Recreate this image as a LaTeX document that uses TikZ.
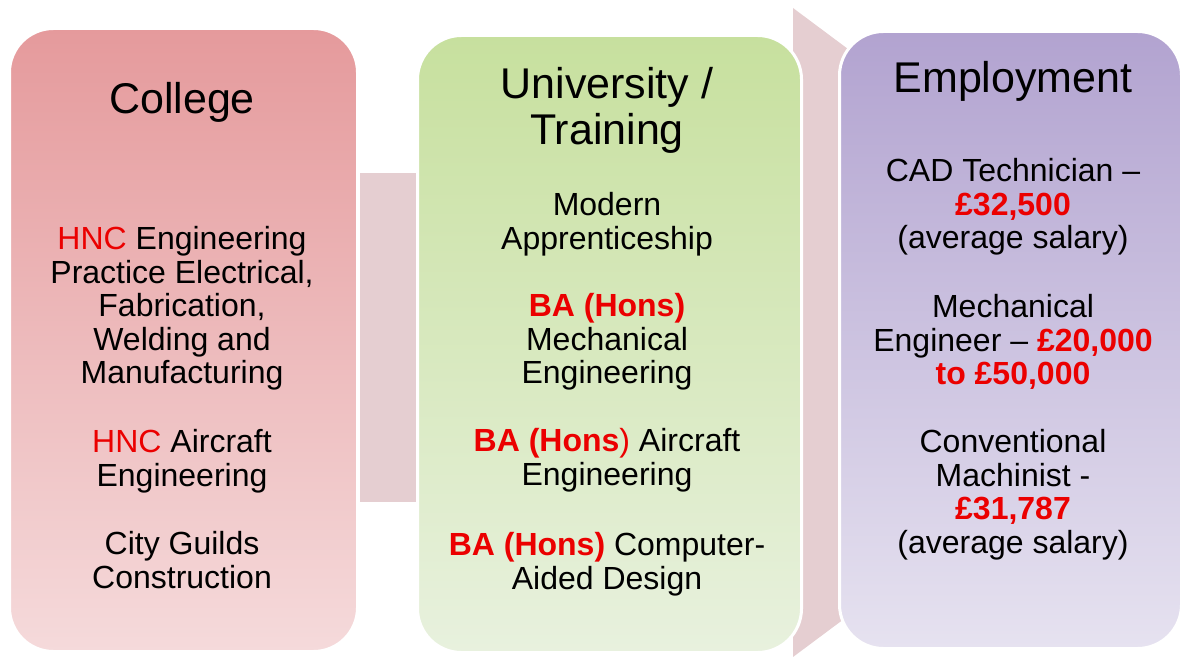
\documentclass[tikz,border=0pt]{standalone}
\usepackage{fontspec}
\setmainfont{Liberation Sans}
\definecolor{redtop}{RGB}{229,154,156}
\definecolor{redbot}{RGB}{245,218,219}
\definecolor{greentop}{RGB}{199,224,158}
\definecolor{greenbot}{RGB}{232,241,222}
\definecolor{purptop}{RGB}{178,163,208}
\definecolor{purpbot}{RGB}{230,226,240}
\definecolor{connfill}{RGB}{229,206,209}
\definecolor{hl}{RGB}{235,0,0}
\newcommand{\hlb}[1]{\textcolor{hl}{\textbf{#1}}}
\newcommand{\hln}[1]{\textcolor{hl}{#1}}
\tikzset{
  stagebox/.style={draw=white, line width=1.5pt, rounded corners=22pt, anchor=north west, inner sep=0pt},
  conn/.style={fill=connfill, draw=none},
  titletxt/.style={anchor=base, inner sep=0pt, font=\fontsize{21.5}{23}\selectfont},
  bodytxt/.style={anchor=north, align=center, inner sep=0pt, font=\fontsize{16}{16.75}\selectfont}
}
\begin{document}
\begin{tikzpicture}[x=0.5pt,y=-0.5pt]
\useasboundingbox (0,0) rectangle (1181,657);
% connectors behind boxes
\coordinate (c1a) at (360,173);
\coordinate (c1b) at (430,502);
\fill[conn] (c1a) rectangle (c1b);
\coordinate (c2a) at (793,8);
\coordinate (c2tip) at (1228,332.5);
\coordinate (c2b) at (793,657);
\fill[conn] (c2a) -- (c2tip) -- (c2b) -- cycle;
% boxes
\node[stagebox, minimum width=174pt, minimum height=311.5pt, top color=redtop, bottom color=redbot] (college) at (8,27) {};
\node[stagebox, minimum width=192pt, minimum height=308.5pt, top color=greentop, bottom color=greenbot] (uni) at (416,34) {};
\node[stagebox, minimum width=171pt, minimum height=308.5pt, top color=purptop, bottom color=purpbot] (emp) at (838,30) {};
% titles
\node[titletxt] (tcollege) at (182,114) {College};
\node[titletxt, anchor=north, align=center] (tuni) at (607,66) {\strut University /\\Training};
\node[titletxt] (temp) at (1013,92.5) {Employment};
% college items
\node[bodytxt] (c1) at (182,226) {\strut\hln{HNC} Engineering\\Practice Electrical,\\Fabrication,\\Welding and\\Manufacturing};
\node[bodytxt] (c2) at (182,429) {\strut\hln{HNC} Aircraft\\Engineering};
\node[bodytxt] (c3) at (182,531) {\strut City Guilds\\Construction};
% university items
\node[bodytxt] (u1) at (607,192) {\strut Modern\\Apprenticeship};
\node[bodytxt] (u2) at (607,293) {\strut\hlb{BA (Hons)}\\Mechanical\\Engineering};
\node[bodytxt] (u3) at (607,428) {\strut\hlb{BA (Hons}\hln{)} Aircraft\\Engineering};
\node[bodytxt] (u4) at (607,532) {\strut\hlb{BA (Hons)} Computer-\\Aided Design};
% employment items
\node[bodytxt] (e1) at (1013,158) {\strut CAD Technician –\\\hlb{£32,500}\\(average salary)};
\node[bodytxt] (e2) at (1013,294) {\strut Mechanical\\Engineer – \hlb{£20,000}\\\hlb{to £50,000}};
\node[bodytxt] (e3) at (1013,429) {\strut Conventional\\Machinist -\\\hlb{£31,787}\\(average salary)};
\end{tikzpicture}
\end{document}
